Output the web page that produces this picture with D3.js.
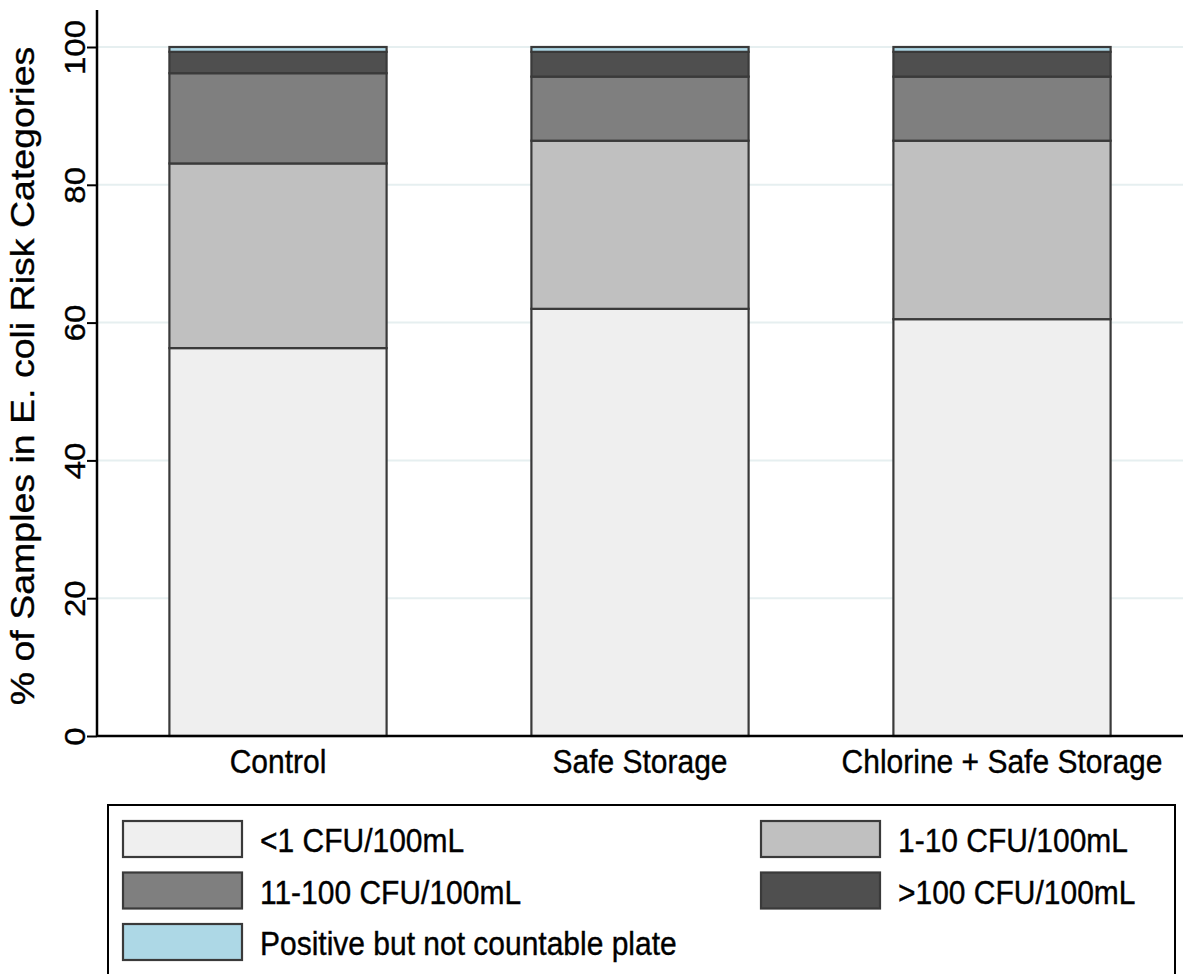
<!DOCTYPE html>
<html>
<head>
<meta charset="utf-8">
<script src="https://cdn.jsdelivr.net/npm/d3@7"></script>
<style>
  html, body { margin: 0; padding: 0; background: #fff; }
  svg { display: block; }
  text { font-family: "Liberation Sans", Arial, Helvetica, sans-serif; fill: #000; stroke: #000; stroke-width: 0.35px; }
</style>
</head>
<body>
<svg id="chart" width="1183" height="974"></svg>
<script>
// ---- data ----
const groups = ["Control", "Safe Storage", "Chlorine + Safe Storage"];
const categories = ["<1 CFU/100mL", "1-10 CFU/100mL", "11-100 CFU/100mL", ">100 CFU/100mL", "Positive but not countable plate"];
const lt1   = [56.3, 62.0, 60.5];
const c1to10 = [26.8, 24.4, 25.9];
const c11to100 = [13.1, 9.3, 9.3];
const gt100 = [3.1, 3.6, 3.6];
const positiveNC = [0.7, 0.7, 0.7];
const yTicks = [0, 20, 40, 60, 80, 100];
const yTitle = "% of Samples in E. coli Risk Categories";

const seriesValues = [lt1, c1to10, c11to100, gt100, positiveNC];
const colors = ["#efefef", "#c0c0c0", "#7f7f7f", "#4f4f4f", "#add8e6"];

// ---- layout ----
const svg = d3.select("#chart");
const mLeft = 97, mRight = 1183, mTop = 47, mBottom = 736;
const SY = 1.1; // vertical stretch of glyphs in reference

const x = d3.scaleBand().domain(groups).range([mLeft, mRight]).paddingInner(0.4).paddingOuter(0.2);
const y = d3.scaleLinear().domain([0, 100]).range([mBottom, mTop]);

// gridlines
svg.append("g").selectAll("line").data(yTicks.filter(d => d > 0)).join("line")
  .attr("x1", mLeft).attr("x2", mRight)
  .attr("y1", d => y(d)).attr("y2", d => y(d))
  .attr("stroke", "#e6eff0").attr("stroke-width", 2);

// stacked data
const rows = groups.map((g, i) => {
  const o = { group: g };
  categories.forEach((c, k) => o[c] = seriesValues[k][i]);
  return o;
});
const stacked = d3.stack().keys(categories)(rows);

svg.append("g").selectAll("g").data(stacked).join("g")
  .attr("fill", (d, i) => colors[i])
  .selectAll("rect").data(d => d).join("rect")
  .attr("x", d => x(d.data.group))
  .attr("width", x.bandwidth())
  .attr("y", d => y(d[1]))
  .attr("height", d => y(d[0]) - y(d[1]))
  .attr("stroke", "#3a3a3a").attr("stroke-width", 2.2);

// y axis
const yAxis = svg.append("g").attr("transform", `translate(${mLeft},0)`)
  .call(d3.axisLeft(y).tickValues(yTicks).tickSize(10).tickPadding(0).tickFormat(d3.format("d")));
yAxis.select(".domain").attr("d", `M0,10V${mBottom}`).attr("stroke", "#000").attr("stroke-width", 2.5);
yAxis.selectAll(".tick line").attr("stroke", "#000").attr("stroke-width", 2);
yAxis.selectAll(".tick text")
  .attr("x", null).attr("dy", null)
  .attr("text-anchor", "middle")
  .style("font-size", "30px")
  .attr("transform", `translate(-12,0) scale(1,${SY}) rotate(-90)`)
  .attr("y", 0);

// x axis
const xAxis = svg.append("g").attr("transform", `translate(0,${mBottom})`)
  .call(d3.axisBottom(x).tickSize(0).tickPadding(0));
xAxis.select(".domain").attr("d", `M${mLeft},0H${mRight}`).attr("stroke", "#000").attr("stroke-width", 2.5);
xAxis.selectAll(".tick text")
  .attr("y", null).attr("dy", null)
  .style("font-size", "30px")
  .attr("transform", `translate(0,37) scale(1,${SY})`);

// y title
svg.append("text")
  .attr("transform", `translate(34,376) scale(1,1.12) rotate(-90)`)
  .attr("text-anchor", "middle")
  .style("font-size", "33.5px")
  .text(yTitle);

// legend
const lg = svg.append("g");
lg.append("rect").attr("x", 108).attr("y", 805).attr("width", 1067).attr("height", 200)
  .attr("fill", "#fff").attr("stroke", "#000").attr("stroke-width", 2);
const legendPos = [
  { col: 0, row: 0 }, { col: 1, row: 0 }, { col: 0, row: 1 }, { col: 1, row: 1 }, { col: 0, row: 2 }
];
const colX = [123, 761], rowY0 = 821, rowStep = 51.5;
categories.forEach((c, i) => {
  const p = legendPos[i];
  const gx = colX[p.col], gy = rowY0 + p.row * rowStep;
  lg.append("rect").attr("x", gx).attr("y", gy).attr("width", 119).attr("height", 36)
    .attr("fill", colors[i]).attr("stroke", "#3a3a3a").attr("stroke-width", 2.2);
  lg.append("text")
    .attr("transform", `translate(${gx + 137},${gy + 31}) scale(1,${SY})`)
    .style("font-size", "30px")
    .text(c);
});
</script>
</body>
</html>
